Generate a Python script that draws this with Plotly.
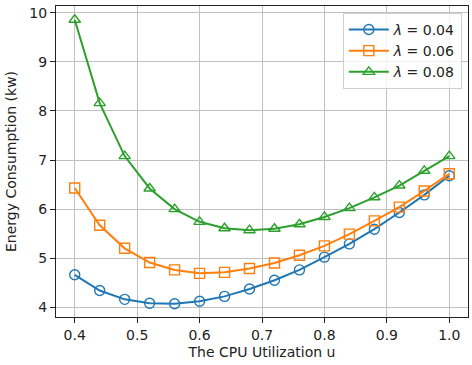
import plotly.graph_objects as go

u = [0.40, 0.44, 0.48, 0.52, 0.56, 0.60, 0.64, 0.68, 0.72, 0.76, 0.80, 0.84, 0.88, 0.92, 0.96, 1.00]
e_004 = [4.66, 4.34, 4.16, 4.08, 4.07, 4.12, 4.22, 4.37, 4.55, 4.76, 5.02, 5.29, 5.59, 5.93, 6.29, 6.68]
e_006 = [6.43, 5.67, 5.20, 4.91, 4.76, 4.69, 4.71, 4.79, 4.90, 5.06, 5.25, 5.49, 5.76, 6.04, 6.37, 6.72]
e_008 = [9.86, 8.16, 7.08, 6.42, 6.00, 5.74, 5.61, 5.57, 5.60, 5.69, 5.84, 6.02, 6.24, 6.48, 6.78, 7.08]
names = ["<i>λ</i> = 0.04", "<i>λ</i> = 0.06", "<i>λ</i> = 0.08"]
colors = ["#1f77b4", "#ff7f0e", "#2ca02c"]
symbols = ["circle-open", "square-open", "triangle-up-open"]

fig = go.Figure()
for ys, nm, c, s in zip([e_004, e_006, e_008], names, colors, symbols):
    fig.add_trace(go.Scatter(
        x=u, y=ys, name=nm, mode="lines+markers",
        line=dict(color=c, width=2),
        marker=dict(symbol=s, size=10, color=c, line=dict(width=1.4, color=c)),
    ))

axis_common = dict(
    showgrid=True, gridcolor="#c0c0c0", gridwidth=1,
    showline=True, linecolor="#222", linewidth=1.2, mirror=True,
    ticks="outside", ticklen=5, tickcolor="#222", zeroline=False,
    tickfont=dict(size=14, color="#222"),
    title_font=dict(size=14, color="#222"),
)
fig.update_xaxes(range=[0.37, 1.03], tickvals=[0.4, 0.5, 0.6, 0.7, 0.8, 0.9, 1.0],
                 ticktext=["0.4", "0.5", "0.6", "0.7", "0.8", "0.9", "1.0"],
                 title_text="The CPU Utilization u", title_standoff=5, **axis_common)
fig.update_yaxes(range=[3.80, 10.14], tickvals=[4, 5, 6, 7, 8, 9, 10],
                 title_text="Energy Consumption (kw)", title_standoff=9, **axis_common)

fig.update_layout(
    width=472, height=365,
    margin=dict(l=56, r=4, t=6, b=48, autoexpand=False),
    paper_bgcolor="white", plot_bgcolor="white",
    font=dict(family="DejaVu Sans", size=14, color="#222"),
    legend=dict(x=0.985, y=0.978, xanchor="right", yanchor="top",
                bgcolor="rgba(255,255,255,0.8)", bordercolor="#d0d0d0", borderwidth=1,
                font=dict(size=14), tracegroupgap=0, itemwidth=40),
    showlegend=True,
)
fig.write_html("out.html", config={"displayModeBar": False},
               post_script="document.body.style.margin='0';")
